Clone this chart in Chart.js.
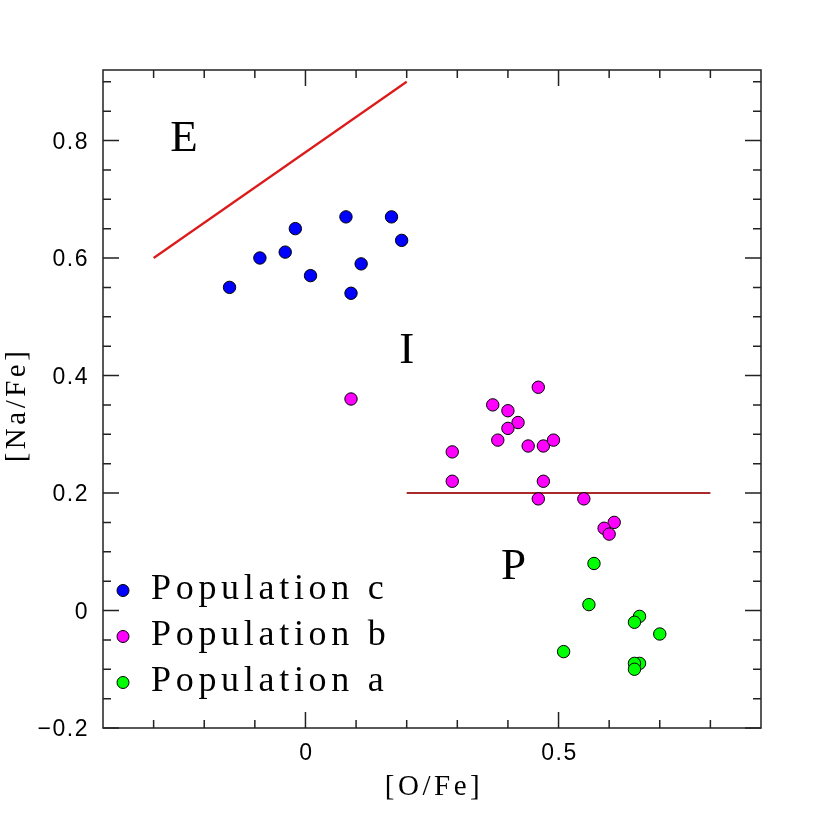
<!DOCTYPE html>
<html>
<head>
<meta charset="utf-8">
<script src="https://cdn.jsdelivr.net/npm/chart.js@4/dist/chart.umd.min.js"></script>
<style>
  html, body { margin: 0; padding: 0; background: #fff; }
</style>
</head>
<body>
<canvas id="chart" width="830" height="830"></canvas>
<script>
// Population c (blue)
const popC_O = [-0.15, -0.09, -0.04, -0.02, 0.01, 0.08, 0.09, 0.11, 0.17, 0.19];
const popC_Na = [0.55, 0.60, 0.61, 0.65, 0.57, 0.67, 0.54, 0.59, 0.67, 0.63];

// Population b (magenta)
const popB_O = [0.09, 0.46, 0.37, 0.40, 0.42, 0.40, 0.38, 0.44, 0.47, 0.49, 0.29, 0.29, 0.47, 0.46, 0.55, 0.61, 0.59, 0.60];
const popB_Na = [0.36, 0.38, 0.35, 0.34, 0.32, 0.31, 0.29, 0.28, 0.28, 0.29, 0.27, 0.22, 0.22, 0.19, 0.19, 0.15, 0.14, 0.13];

// Population a (green)
const popA_O = [0.57, 0.56, 0.66, 0.65, 0.70, 0.51, 0.66, 0.65, 0.65];
const popA_Na = [0.08, 0.01, -0.01, -0.02, -0.04, -0.07, -0.09, -0.09, -0.10];

// separating lines
const upperLineO = [-0.3, 0.2];
const upperLineNa = [0.6, 0.9];
const lowerLineO = [0.2, 0.8];
const lowerLineNa = [0.2, 0.2];

// region labels
const regionNames = ["E", "I", "P"];
const regionO = [-0.24, 0.2, 0.411];
const regionNa = [0.782, 0.422, 0.054];

// ticks
const xLabelTicks = [0, 0.5];
const xMinorTicks = [-0.3, -0.2, -0.1, 0.1, 0.2, 0.3, 0.4, 0.6, 0.7, 0.8];
const yLabelTicks = [-0.2, 0, 0.2, 0.4, 0.6, 0.8];
const yMinorTicks = [-0.15, -0.1, -0.05, 0.05, 0.1, 0.15, 0.25, 0.3, 0.35, 0.45, 0.5, 0.55, 0.65, 0.7, 0.75, 0.85, 0.9];

const toPoints = (xs, ys) => xs.map((v, i) => ({ x: v, y: ys[i] }));

const fmt = (v) => {
  if (Math.abs(v) < 1e-9) return "0";
  return (v < 0 ? "\u2212" : "") + String(Math.round(Math.abs(v) * 100) / 100);
};

const framePlugin = {
  id: "frame",
  afterDraw(chart) {
    const { ctx, chartArea: a } = chart;
    const x = chart.scales.x;
    const y = chart.scales.y;
    ctx.save();

    // frame + inward ticks on all four sides
    ctx.strokeStyle = "#222";
    ctx.lineWidth = 1.5;
    ctx.strokeRect(a.left, a.top, a.right - a.left, a.bottom - a.top);
    ctx.beginPath();
    const xTick = (v, len) => {
      const p = x.getPixelForValue(v);
      ctx.moveTo(p, a.bottom); ctx.lineTo(p, a.bottom - len);
      ctx.moveTo(p, a.top); ctx.lineTo(p, a.top + len);
    };
    const yTick = (v, len) => {
      const p = y.getPixelForValue(v);
      ctx.moveTo(a.left, p); ctx.lineTo(a.left + len, p);
      ctx.moveTo(a.right, p); ctx.lineTo(a.right - len, p);
    };
    x.ticks.forEach((t) => xTick(t.value, 16));
    xMinorTicks.forEach((v) => xTick(v, 8));
    y.ticks.forEach((t) => yTick(t.value, 16));
    yMinorTicks.forEach((v) => yTick(v, 8));
    ctx.stroke();

    // tick labels
    ctx.fillStyle = "#000";
    ctx.font = '23px "Liberation Sans"';
    ctx.letterSpacing = "1.5px";
    ctx.textBaseline = "alphabetic";
    ctx.textAlign = "center";
    x.ticks.forEach((t) => {
      ctx.fillText(fmt(t.value), x.getPixelForValue(t.value) + 1, a.bottom + 32);
    });
    ctx.textAlign = "right";
    y.ticks.forEach((t) => {
      ctx.fillText(fmt(t.value), a.left - 14, y.getPixelForValue(t.value) + 8);
    });

    // axis titles
    ctx.font = '29px "Liberation Serif"';
    ctx.letterSpacing = "3.5px";
    ctx.textAlign = "center";
    ctx.fillText("[O/Fe]", (a.left + a.right) / 2 + 2, a.bottom + 67);
    ctx.save();
    ctx.translate(25, 405);
    ctx.rotate(-Math.PI / 2);
    ctx.fillText("[Na/Fe]", 0, 0);
    ctx.restore();

    // region labels
    ctx.letterSpacing = "0px";
    ctx.font = '45px "Liberation Serif"';
    regionNames.forEach((name, i) => {
      ctx.fillText(name, x.getPixelForValue(regionO[i]), y.getPixelForValue(regionNa[i]));
    });

    // legend
    ctx.font = '36px "Liberation Serif"';
    ctx.letterSpacing = "4.7px";
    ctx.textAlign = "left";
    let row = 0;
    chart.data.datasets.forEach((ds) => {
      if (!ds.label) return;
      const base = a.top + 529 + row * 46;
      ctx.beginPath();
      ctx.arc(a.left + 20, base - 8.5, 6, 0, Math.PI * 2);
      ctx.fillStyle = ds.backgroundColor;
      ctx.fill();
      ctx.lineWidth = 1;
      ctx.strokeStyle = "#000";
      ctx.stroke();
      ctx.fillStyle = "#000";
      ctx.fillText(ds.label, a.left + 48, base);
      row++;
    });

    ctx.restore();
  },
};

const pointStyle = {
  pointRadius: 6.2,
  pointHoverRadius: 6.2,
  borderColor: "#000",
  borderWidth: 1,
};

new Chart(document.getElementById("chart"), {
  type: "scatter",
  data: {
    datasets: [
      { label: "Population c", data: toPoints(popC_O, popC_Na), backgroundColor: "#0000ff", ...pointStyle },
      { label: "Population b", data: toPoints(popB_O, popB_Na), backgroundColor: "#ff00ff", ...pointStyle },
      { label: "Population a", data: toPoints(popA_O, popA_Na), backgroundColor: "#00ff00", ...pointStyle },
      {
        data: toPoints(upperLineO, upperLineNa),
        showLine: true,
        pointRadius: 0,
        borderColor: "#dd1a1a",
        borderWidth: 2.2,
        fill: false,
      },
      {
        data: toPoints(lowerLineO, lowerLineNa),
        showLine: true,
        pointRadius: 0,
        borderColor: "#a82a2a",
        borderWidth: 2.2,
        fill: false,
      },
    ],
  },
  options: {
    responsive: false,
    animation: false,
    layout: { padding: { top: 70, right: 69, left: 0, bottom: 0 } },
    plugins: {
      legend: { display: false },
      tooltip: { enabled: false },
    },
    scales: {
      x: {
        type: "linear",
        min: -0.4,
        max: 0.9,
        grid: { display: false },
        border: { display: false },
        ticks: { display: false },
        afterBuildTicks: (scale) => {
          scale.ticks = xLabelTicks.map((v) => ({ value: v }));
        },
        afterFit: (scale) => {
          scale.height = 102;
        },
      },
      y: {
        type: "linear",
        min: -0.2,
        max: 0.92,
        grid: { display: false },
        border: { display: false },
        ticks: { display: false },
        afterBuildTicks: (scale) => {
          scale.ticks = yLabelTicks.map((v) => ({ value: v }));
        },
        afterFit: (scale) => {
          scale.width = 103;
        },
      },
    },
  },
  plugins: [framePlugin],
});
</script>
</body>
</html>
